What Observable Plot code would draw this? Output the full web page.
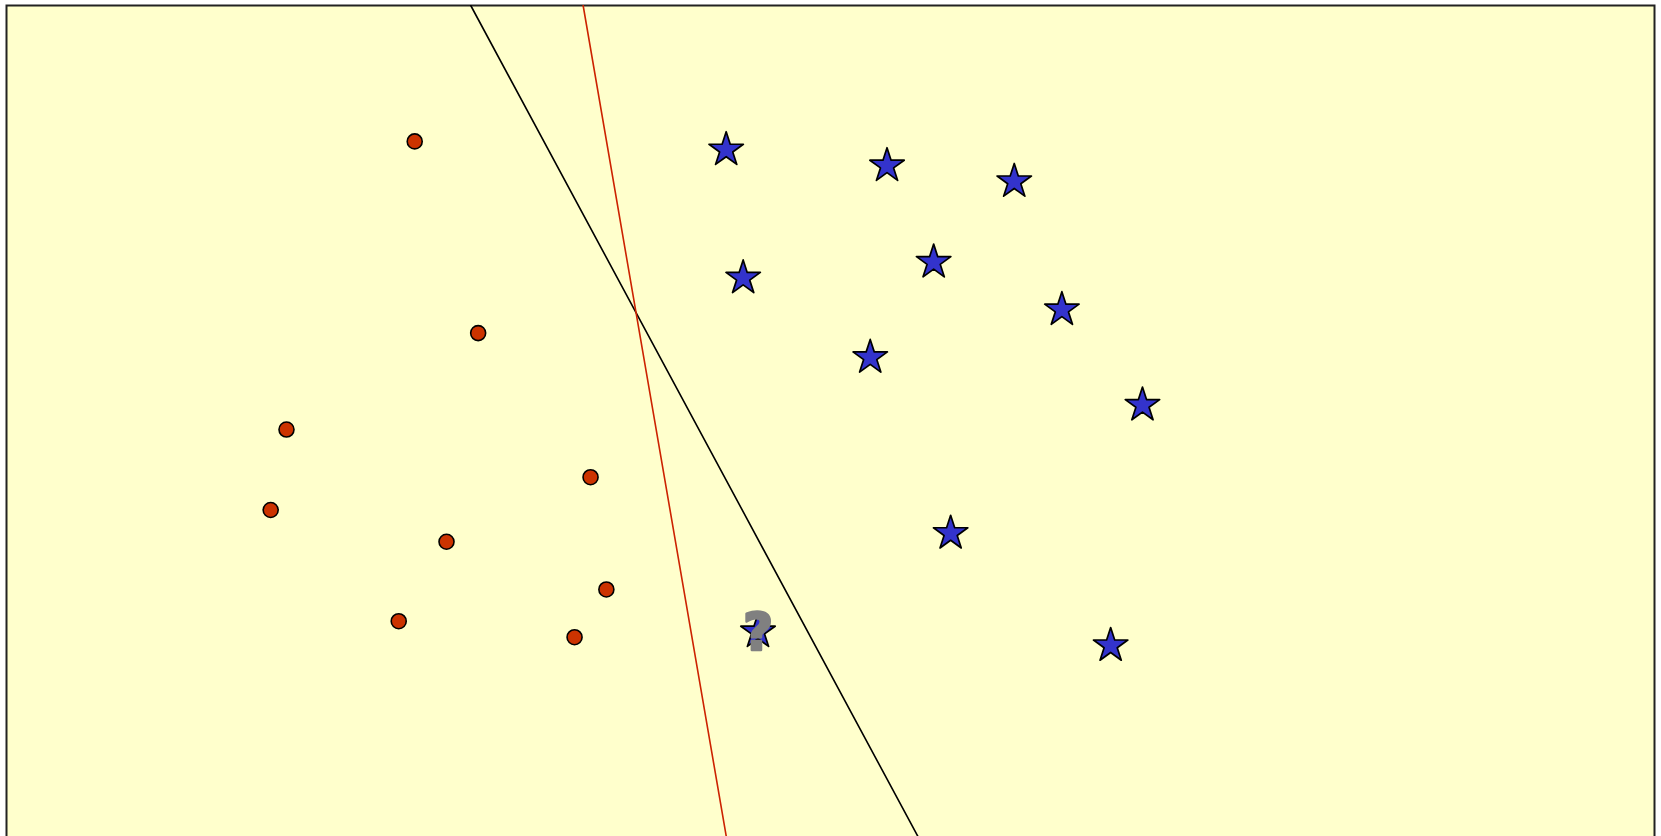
<!DOCTYPE html>
<html>
<head>
<meta charset="utf-8">
<script src="https://cdn.jsdelivr.net/npm/d3@7"></script>
<script src="https://cdn.jsdelivr.net/npm/@observablehq/plot@0.6"></script>
<style>
  html, body { margin: 0; padding: 0; overflow: hidden; background: #ffffff; }
</style>
</head>
<body>
<div id="chart"></div>
<script>
// Class A (red circles)
const circleX = [2.477, 2.862, 1.699, 1.603, 2.670, 3.544, 3.640, 2.380, 3.447];
const circleY = [4.191, 3.050, 2.476, 1.997, 1.808, 2.192, 1.524, 1.335, 1.240];
// Class B (blue stars)
const starX = [4.367, 5.343, 6.115, 4.470, 5.626, 6.404, 5.241, 6.893, 5.729, 6.700];
const starY = [4.141, 4.046, 3.952, 3.378, 3.472, 3.189, 2.905, 2.621, 1.858, 1.190];
// Unknown query point
const queryX = [4.560];
const queryY = [1.272];
const queryLabel = ["?"];
// Two candidate decision boundaries (end points)
const blackLineX = [2.817, 5.560];
const blackLineY = [5.0, 0.0];
const redLineX = [3.499, 4.377];
const redLineY = [5.0, 0.0];

const circles = circleX.map((x, i) => ({x, y: circleY[i]}));
const stars = starX.map((x, i) => ({x, y: starY[i]}));
const query = queryX.map((x, i) => ({x, y: queryY[i], label: queryLabel[i]}));
const blackLine = blackLineX.map((x, i) => ({x, y: blackLineY[i]}));
const redLine = redLineX.map((x, i) => ({x, y: redLineY[i]}));

const chart = Plot.plot({
  width: 1661,
  height: 846,
  marginLeft: 6,
  marginRight: 7,
  marginTop: 5,
  marginBottom: 1,
  x: {domain: [0, 10], axis: null},
  y: {domain: [0, 5], axis: null},
  style: {background: "transparent"},
  marks: [
    Plot.frame({fill: "#ffffcc", stroke: "#222222", strokeWidth: 2}),
    Plot.line(blackLine, {x: "x", y: "y", stroke: "#000000", strokeWidth: 1.6, clip: "frame"}),
    Plot.line(redLine, {x: "x", y: "y", stroke: "#cc2200", strokeWidth: 1.6, clip: "frame"}),
    Plot.dot(circles, {x: "x", y: "y", r: 7.5, fill: "#cc3300", stroke: "#000000", strokeWidth: 1.6}),
    Plot.dot(stars, {x: "x", y: "y", symbol: "star", r: 10.8, fill: "#3333cc", stroke: "#000000", strokeWidth: 1.7, strokeLinejoin: "round"}),
    Plot.dot(query, {x: "x", y: "y", symbol: "star", r: 10.8, fill: "#3333cc", stroke: "#000000", strokeWidth: 1.7, strokeLinejoin: "round"}),
    Plot.text(query, {x: "x", y: "y", text: "label", fill: "#808080", stroke: "#808080", strokeWidth: 2.5, fontSize: 52, fontWeight: "bold", fontFamily: "DejaVu Sans", lineAnchor: "middle", dy: 2})
  ]
});
document.getElementById("chart").appendChild(chart);
</script>
</body>
</html>
